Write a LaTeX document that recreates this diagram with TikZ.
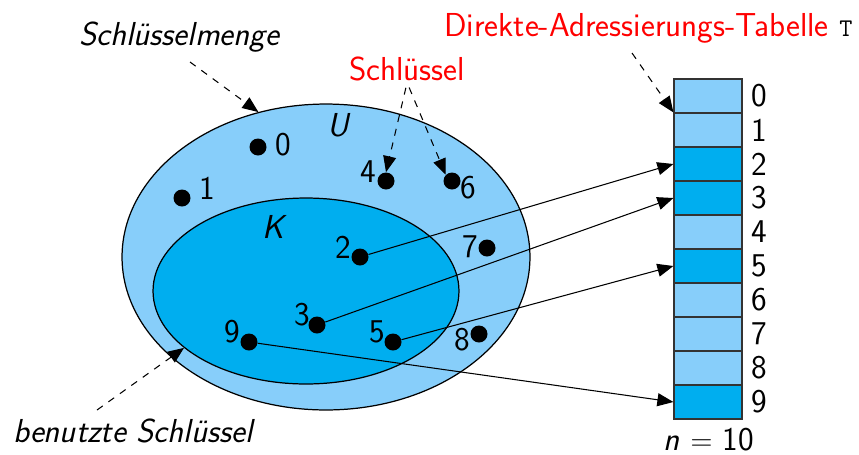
\documentclass[tikz,border=0pt]{standalone}
\usepackage{tikz}
\usepackage{amsmath}
\usetikzlibrary{arrows.meta,shapes.geometric}
\renewcommand{\familydefault}{\sfdefault}
\definecolor{lightkey}{RGB}{135,206,250}
\definecolor{darkkey}{RGB}{0,174,239}
\newcommand{\bigfont}{\fontsize{18.9}{22}\selectfont}

\begin{document}
\begin{tikzpicture}[x=0.02cm,y=-0.02cm,
  every node/.style={font=\bigfont, inner sep=1pt},
  keyset/.style={ellipse, draw, line width=0.7pt, inner sep=0pt},
  keydot/.style={circle, fill=black, minimum size=0.34cm, inner sep=0pt},
  slot/.style={rectangle, draw=black!80, line width=0.7pt, minimum width=1.36cm, minimum height=0.68cm, inner sep=0pt},
  maparrow/.style={-{Triangle[length=0.32cm,width=0.26cm]}, line width=0.6pt},
  hintarrow/.style={maparrow, dash pattern=on 4pt off 4pt}]
\useasboundingbox (0,0) rectangle (859,454);

% Mengen U und K
\node[keyset, fill=lightkey, minimum width=8.16cm, minimum height=6.12cm] (uset) at (326,257) {};
\node[keyset, fill=darkkey, minimum width=6.12cm, minimum height=3.72cm] (kset) at (306,291) {};
\node (ulab) at (339,125) {\textit{U}};
\node (klab) at (275,227) {\textit{K}};

% Schluessel mit Nummern
\foreach \kk/\kx/\ky/\lx/\ly in {0/258/147/283/145, 1/182/198/207/188, 2/360/257/343/247,
    3/317/325/302/315, 4/386/181/368/172, 5/393/342/377/332, 6/452/181/468/188,
    7/487/248/470/247, 8/479/334/462/340, 9/249/342/232/332}
{
  \node[keydot] (k\kk) at (\kx,\ky) {};
  \node (n\kk) at (\lx,\ly) {\kk};
}

% Tabelle T
\foreach \i/\c in {0/lightkey,1/lightkey,2/darkkey,3/darkkey,4/lightkey,
    5/darkkey,6/lightkey,7/lightkey,8/lightkey,9/darkkey}
{
  \node[slot, fill=\c] (t\i) at (708,96+34*\i) {};
  \node (r\i) at (759,96+34*\i) {\i};
}
\node[anchor=base] (size) at (709,450) {\textit{n} $=$ 10};

% Abbildung K -> T
\draw[maparrow] (k2) -- (t2.west);
\draw[maparrow] (k3) -- (t3.west);
\draw[maparrow] (k5) -- (t5.west);
\draw[maparrow] (k9) -- (t9.west);

% Beschriftungen
\node[anchor=base west] (menge) at (77,45) {\textit{Schlüsselmenge}};
\node[anchor=base west, text=red] (schl) at (347,80) {Schlüssel};
\node[anchor=base west, text=red] (dat) at (442,36)
  {Direkte-Adressierungs-Tabelle \textcolor{black}{\fontsize{14.5}{16}\selectfont\texttt{T}}};
\node[anchor=base west] (used) at (11,442) {\textit{benutzte Schlüssel}};

\coordinate (mengeA) at (190,62);
\coordinate (datA) at (632,53);
\coordinate (usedA) at (97,410);
\draw[hintarrow] (mengeA) -- (uset.115);
\draw[hintarrow, shorten <=3pt] (schl.south) -- (k4.north);
\draw[hintarrow, shorten <=3pt] (schl.south) -- (k6.north west);
\draw[hintarrow] (datA) -- (t1.north west);
\draw[hintarrow] (usedA) -- (kset.205);
\end{tikzpicture}
\end{document}
